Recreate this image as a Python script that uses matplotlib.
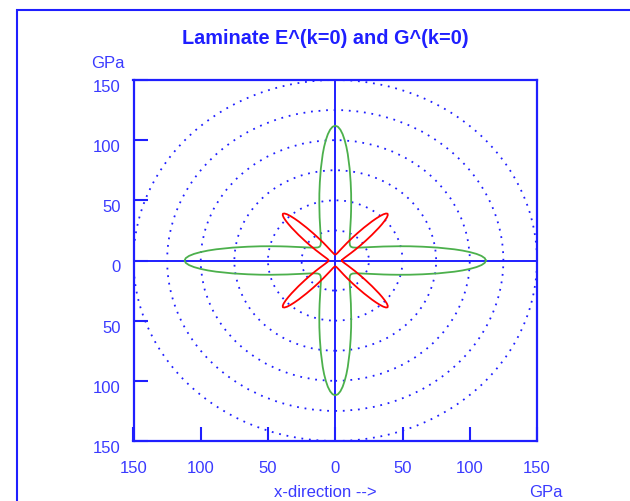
import matplotlib.pyplot as plt
import numpy as np
from matplotlib.patches import Circle, Rectangle
from matplotlib.transforms import ScaledTranslation

plt.rcParams['font.family'] = ['Liberation Sans', 'DejaVu Sans']

# polar moduli (GPa), 0..45 deg; the rest follows by symmetry
e_angles = [0, 1, 2, 3, 4, 5, 6, 8, 10, 12, 14, 16, 18, 20, 23, 26, 30, 35, 40, 45]
e_mod = [112, 111.2, 108.8, 105.1, 100.3, 94.9, 89.0, 77.0, 66.0, 56.8,
         49.0, 42.7, 37.6, 33.4, 28.6, 25.0, 21.5, 18.6, 16.9, 16.3]
g_angles = [0, 5, 10, 15, 20, 25, 28, 31, 34, 36, 38, 40, 41, 42, 43, 44, 45]
g_mod = [5.0, 5.1, 5.6, 6.5, 8.0, 10.7, 13.3, 17.2, 22.9, 28.1,
         34.7, 42.3, 46.1, 49.6, 52.5, 54.3, 55.0]
grid_radii = [25, 50, 75, 100, 125, 150]
ticks = [-150, -100, -50, 0, 50, 100, 150]

BLUE = '#1f1fff'
TXT = '#3a3aff'


def unfold(ang, val):
    ang = np.asarray(ang, float)
    val = np.asarray(val, float)
    a = np.concatenate([ang, 90 - ang[::-1][1:]])
    v = np.concatenate([val, val[::-1][1:]])
    a = np.concatenate([a + 90 * k for k in range(4)] + [a[:1]])
    v = np.concatenate([np.tile(v, 4), v[:1]])
    t = np.radians(a)
    return v * np.cos(t), v * np.sin(t)


fig = plt.figure(figsize=(6.3, 5.02), dpi=100)
ax = fig.add_axes([133.5 / 630, 60 / 502, 403.5 / 630, 361 / 502])

# outer frame
fig.patches.append(Rectangle((17 / 630, -0.1), 1.2, 1.1 - 11 / 502, transform=fig.transFigure,
                             fill=False, ec=BLUE, lw=1.5))

for r in grid_radii:
    ax.add_patch(Circle((0, 0), r, fill=False, ec=BLUE, lw=1.3, ls=(0, (1, 3.2))))

ax.axhline(0, color=BLUE, lw=1.4)
ax.axvline(0, color=BLUE, lw=1.4)

x, y = unfold(e_angles, e_mod)
ax.plot(x, y, color='#4cb04c', lw=1.3)
x, y = unfold(g_angles, g_mod)
ax.plot(x, y, color='#ff0000', lw=1.3)

ax.set_xlim(-150, 150)
ax.set_ylim(-150, 150)
ax.set_xticks(ticks)
ax.set_yticks(ticks)
ax.set_xticklabels([str(abs(t)) for t in ticks])
ax.set_yticklabels([str(abs(t)) for t in ticks])
ax.tick_params(direction='in', length=10, width=1.5, color=BLUE, labelcolor=TXT, labelsize=12)
ax.tick_params(axis='x', pad=14)
ax.tick_params(axis='y', pad=9)
for lab in ax.get_yticklabels():
    lab.set_transform(lab.get_transform() + ScaledTranslation(0, -5 / 100, fig.dpi_scale_trans))
for s in ax.spines.values():
    s.set_color(BLUE)
    s.set_linewidth(1.6)

fig.text(325.5 / 630, 1 - 39 / 502, 'Laminate E^(k=0) and G^(k=0)', ha='center', va='center',
         color=BLUE, fontsize=14.3, fontweight='bold')
fig.text(107.5 / 630, 1 - 63 / 502, 'GPa', ha='center', va='center', color=TXT, fontsize=12)
fig.text(325.5 / 630, 1 - 493 / 502, 'x-direction -->', ha='center', va='center', color=TXT, fontsize=12)
fig.text(545.6 / 630, 1 - 493 / 502, 'GPa', ha='center', va='center', color=TXT, fontsize=12)

fig.savefig('out.png', dpi=100)
